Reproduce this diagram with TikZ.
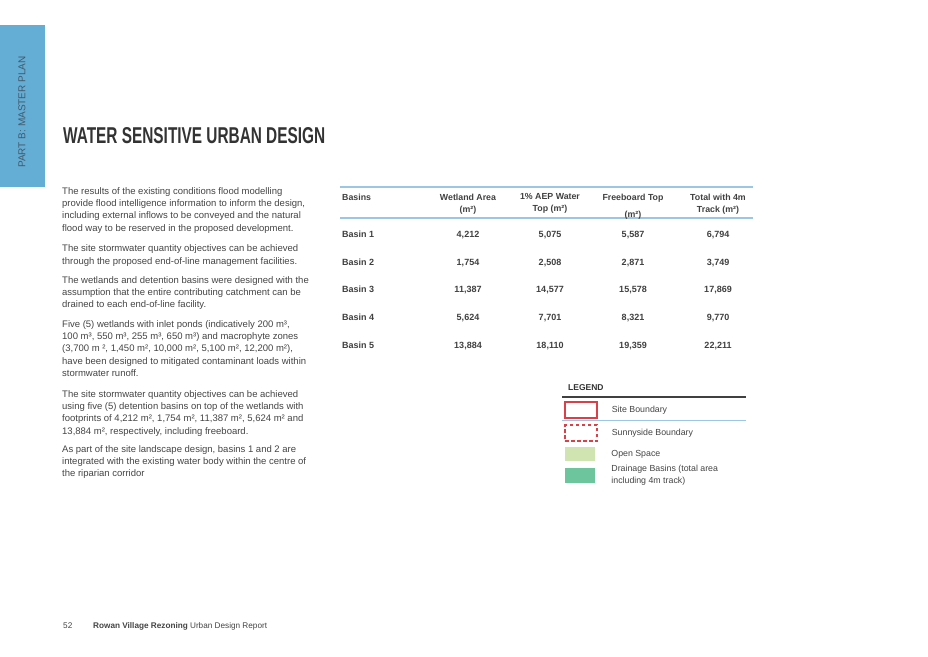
\documentclass[tikz,border=0pt]{standalone}
\usepackage{fontspec}
\setmainfont{Liberation Sans}
\usepackage{graphicx}
\usetikzlibrary{positioning}
\definecolor{sidebarblue}{HTML}{64AED6}
\definecolor{sidetext}{HTML}{42596A}
\definecolor{ruleblue}{HTML}{9CC6E6}
\definecolor{bodygray}{HTML}{444444}
\definecolor{siteRed}{HTML}{DA4049}
\definecolor{openGreen}{HTML}{CFE4B0}
\definecolor{basinGreen}{HTML}{6CC59C}
\tikzset{para/.style={anchor=north west,inner sep=0pt,align=left,text=bodygray,
	 font=\fontsize{9.5}{12.2}\selectfont},
	 cell/.style={anchor=base,inner sep=0pt,text=black!75,font=\fontsize{9}{12}\selectfont\bfseries},
	 head/.style={anchor=north,inner sep=0pt,align=center,text=black!75,font=\fontsize{8.8}{12}\selectfont\bfseries},
	 legbox/.style={inner sep=0pt,minimum width=30pt,minimum height=15pt},
	 legtext/.style={inner sep=0pt,anchor=west,align=left,text=bodygray,font=\fontsize{8.8}{12}\selectfont},
	 node distance = 14pt
	 }

\begin{document}
\begin{tikzpicture}[x=1pt,y=-1pt]
	\useasboundingbox (0,0) rectangle (928,656);
	% side tab
	\fill[sidebarblue] (0,25) rectangle (45,187);
	\node[rotate=90,text=sidetext,font=\fontsize{10}{12}\selectfont] (part) at (22,112) {PART B: MASTER PLAN};
	\node[anchor=base west,inner sep=0pt,text=black!80] (title) at (63,143) {\resizebox{262pt}{16pt}{\bfseries WATER SENSITIVE URBAN DESIGN}};
	% left column
	\node[para] (p1) at (62,187.5) {The results of the existing conditions flood modelling\\
		provide flood intelligence information to inform the design,\\
		including external inflows to be conveyed and the natural\\
		flood way to be reserved in the proposed development.};
	\node[para] (p2) at (62,244.8) {The site stormwater quantity objectives can be achieved\\
		through the proposed end-of-line management facilities.};
	\node[para] (p3) at (62,276.5) {The wetlands and detention basins were designed with the\\
		assumption that the entire contributing catchment can be\\
		drained to each end-of-line facility.};
	\node[para] (p4) at (62,320.5) {Five (5) wetlands with inlet ponds (indicatively 200 m³,\\
		100 m³, 550 m³, 255 m³, 650 m³) and macrophyte zones\\
		(3,700 m ², 1,450 m², 10,000 m², 5,100 m², 12,200 m²),\\
		have been designed to mitigated contaminant loads within\\
		stormwater runoff.};
	\node[para] (p5) at (62,390.5) {The site stormwater quantity objectives can be achieved\\
		using five (5) detention basins on top of the wetlands with\\
		footprints of 4,212 m², 1,754 m², 11,387 m², 5,624 m² and\\
		13,884 m², respectively, including freeboard.};
	\node[para] (p6) at (62,445.5) {As part of the site landscape design, basins 1 and 2 are\\
		integrated with the existing water body within the centre of\\
		the riparian corridor};
	% table
	\draw[ruleblue,line width=2pt] (340,187) coordinate (t1) -- (753,187) coordinate (t2);
	\draw[ruleblue,line width=2pt] (340,218) coordinate (t3) -- (753,218) coordinate (t4);
	\node[head,anchor=north west] (hb) at (342,193.5) {Basins};
	\node[head] (hw) at (468,193.5) {Wetland Area\\(m²)};
	\node[head] (ha) at (550,193.5) {1\% AEP Water\\Top (m²)};
	\node[head] (hf) at (633,193.5) {Freeboard Top\\[5pt](m²)};
	\node[head] (ht) at (718,193.5) {Total with 4m\\Track (m²)};
	\foreach \wa/\aep/\fb/\tot [count=\i] in {{4,212}/{5,075}/{5,587}/{6,794},
		{1,754}/{2,508}/{2,871}/{3,749},{11,387}/{14,577}/{15,578}/{17,869},
		{5,624}/{7,701}/{8,321}/{9,770},{13,884}/{18,110}/{19,359}/{22,211}}{
		\node[cell,anchor=base west] (b\i) at (342,{237.4+27.7*(\i-1)}) {Basin \i};
		\node[cell] (w\i) at (468,{237.4+27.7*(\i-1)}) {\wa};
		\node[cell] (a\i) at (550,{237.4+27.7*(\i-1)}) {\aep};
		\node[cell] (f\i) at (633,{237.4+27.7*(\i-1)}) {\fb};
		\node[cell] (t\i) at (718,{237.4+27.7*(\i-1)}) {\tot};
	}
	% legend
	\node[anchor=base west,inner sep=0pt,text=black!80,font=\fontsize{8.5}{12}\selectfont\bfseries] (leg) at (568,390) {LEGEND};
	\draw[black!75,line width=1.5pt] (562,397) -- (746,397);
	\draw[ruleblue,line width=1pt] (562,420) -- (746,420);
	\node[legbox,draw=siteRed,line width=1.3pt,minimum width=32pt,minimum height=16pt] (site) at (581,410) {};
	\node[legbox,draw=siteRed,dash pattern=on 3.5pt off 2.5pt,line width=1.3pt,minimum width=32pt,minimum height=16pt] (sunny) at (581,433) {};
	\node[legbox,fill=openGreen,minimum height=14pt] (open) at (580,454) {};
	\node[legbox,fill=basinGreen] (basin) at (580,475.5) {};
	\node[legtext] (lsite) [right=of site] {Site Boundary};
	\node[legtext] (lsunny) [right=of sunny] {Sunnyside Boundary};
	\node[legtext] (lopen) [right=16pt of open] {Open Space};
	\node[legtext] (lbasin) [right=16pt of basin] {Drainage Basins (total area\\including 4m track)};
	% footer
	\node[anchor=base west,inner sep=0pt,text=bodygray,font=\fontsize{8.2}{10}\selectfont] (page) at (63,628) {52};
	\node[anchor=base west,inner sep=0pt,text=bodygray,font=\fontsize{8.2}{10}\selectfont] (foot) at (93,628) {{\bfseries Rowan Village Rezoning}\ Urban Design Report};
\end{tikzpicture}
\end{document}
